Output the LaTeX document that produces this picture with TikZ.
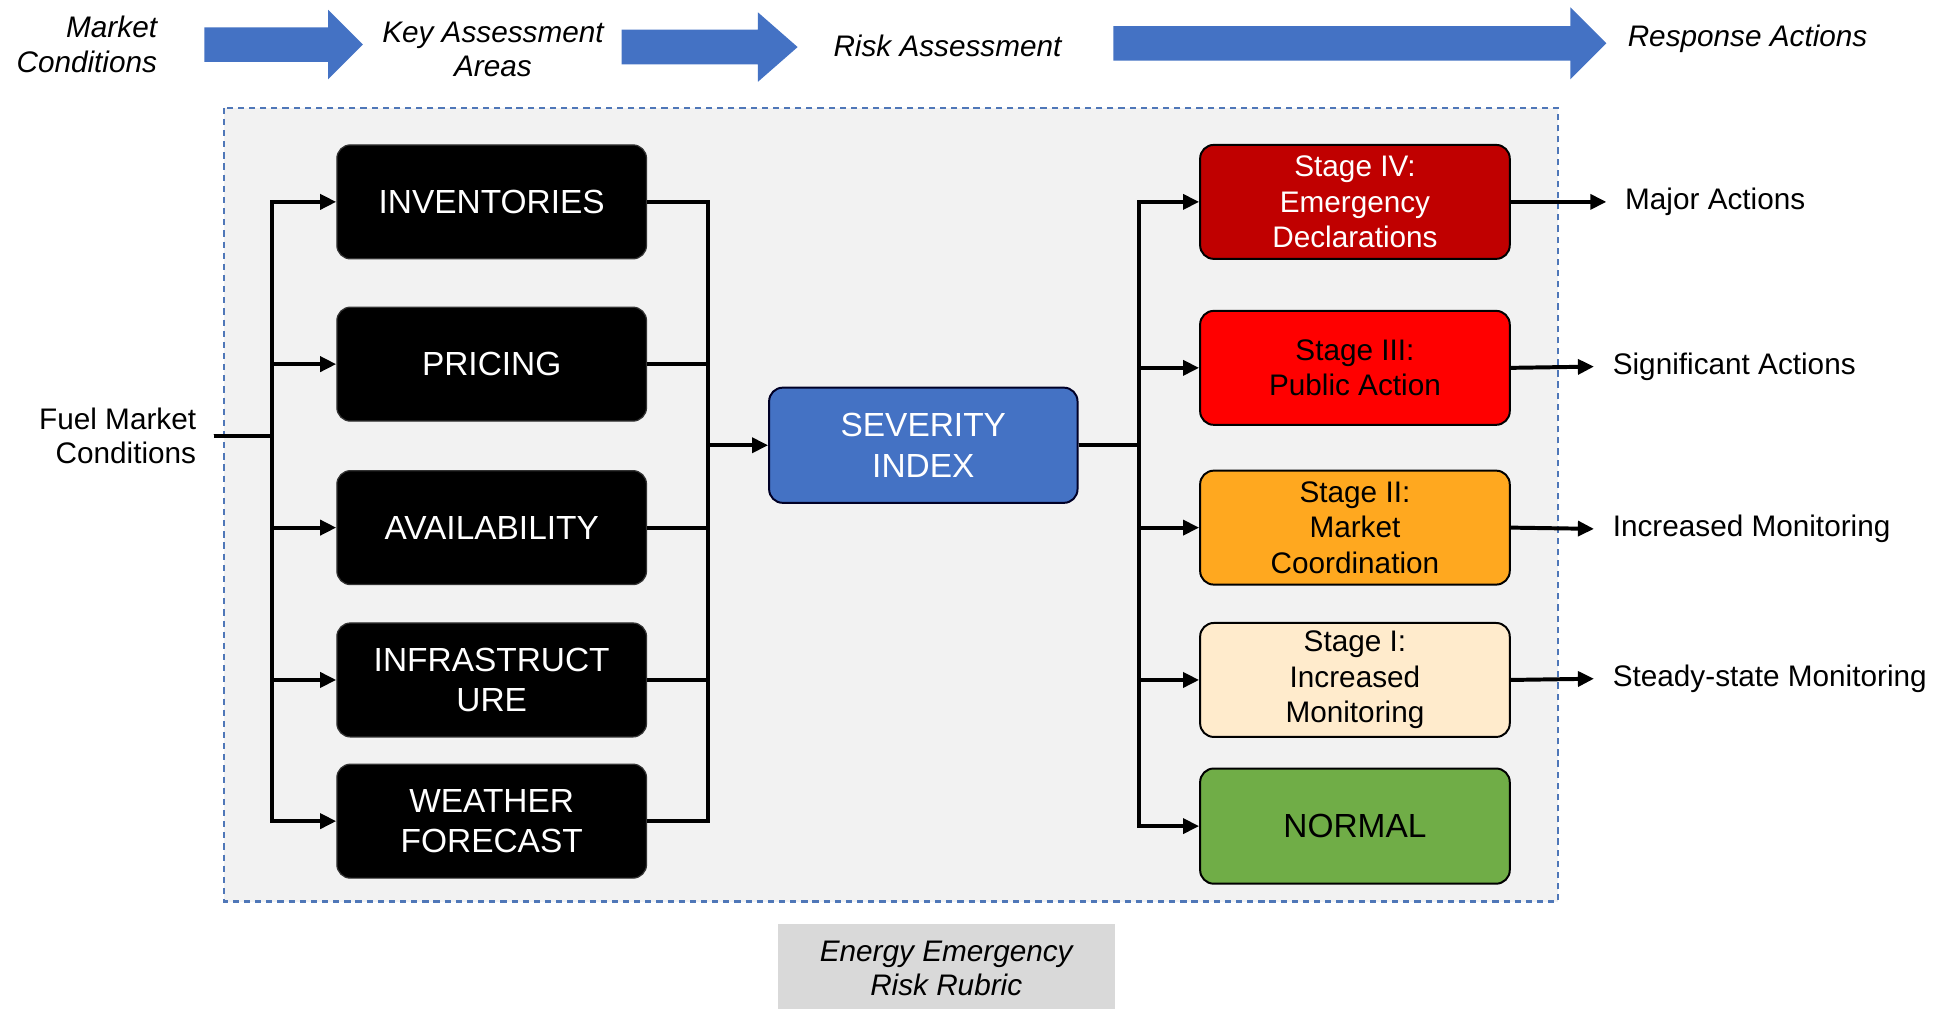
\documentclass[tikz,border=0pt]{standalone}
\usepackage{fontspec}
\setmainfont{Liberation Sans}
\usetikzlibrary{arrows.meta}
\definecolor{bblue}{HTML}{4472C4}
\definecolor{dashb}{HTML}{4F77B8}
\definecolor{panel}{HTML}{F2F2F2}
\definecolor{sfour}{HTML}{C00000}
\definecolor{sthree}{HTML}{FF0000}
\definecolor{stwo}{HTML}{FFA81F}
\definecolor{sone}{HTML}{FFEBCC}
\definecolor{snorm}{HTML}{70AD47}
\definecolor{rubric}{HTML}{D9D9D9}
\tikzset{
  kbox/.style={rectangle, rounded corners=11pt, fill=black, draw=black!80, line width=1pt,
    minimum width=250pt, minimum height=92pt, text=white, align=center,
    font=\fontsize{27}{33}\selectfont, inner sep=0pt},
  sbox/.style={rectangle, rounded corners=11pt, draw=black, line width=1.6pt,
    minimum width=250pt, minimum height=92pt, align=center,
    font=\fontsize{24}{28.5}\selectfont, inner sep=0pt},
  conn/.style={line width=3.2pt, draw=black},
  arr/.style={conn, -{Triangle[length=13pt,width=12pt]}},
  toplbl/.style={font=\fontsize{24}{28}\selectfont\itshape, align=center, inner sep=0pt},
  outlbl/.style={font=\fontsize{24}{28}\selectfont, anchor=west, inner xsep=15pt, inner ysep=0pt},
  bigarrow/.style={fill=bblue}
}
\begin{document}
\begin{tikzpicture}[x=1pt,y=-1pt]
\useasboundingbox (0,0) rectangle (1568,815);
\fill[white] (0,0) rectangle (1568,815);

% top flow arrows
\fill[bigarrow] (165,22) -- (265,22) -- (265,8) -- (293,36) -- (265,64) -- (265,50) -- (165,50) -- cycle;
\fill[bigarrow] (502,24) -- (612,24) -- (612,10) -- (644,38) -- (612,66) -- (612,52) -- (502,52) -- cycle;
\fill[bigarrow] (899,21) -- (1268,21) -- (1268,6) -- (1297,35) -- (1268,64) -- (1268,49) -- (899,49) -- cycle;

\node[toplbl, align=right, anchor=east] (mc) at (127,36) {Market\\Conditions};
\node[toplbl] (kaa) at (398,40) {Key Assessment\\Areas};
\node[toplbl] (ra) at (765,37) {Risk Assessment};
\node[toplbl] (resp) at (1411,31) {Response Actions};

% panel
\draw[fill=panel, draw=dashb, line width=2pt, dash pattern=on 5pt off 4pt] (181,87) rectangle (1258,728);

% left boxes
\node[kbox] (inv) at (397,163) {INVENTORIES};
\node[kbox] (pri) at (397,294) {PRICING};
\node[kbox] (ava) at (397,426) {AVAILABILITY};
\node[kbox] (inf) at (397,549) {INFRASTRUCT\\URE};
\node[kbox] (wea) at (397,663) {WEATHER\\FORECAST};

% fuel market conditions
\node[font=\fontsize{24}{28}\selectfont, align=right, inner xsep=14pt, inner ysep=0pt] (fuel) at (95,352) {Fuel Market\\Conditions};

% severity
\node[rectangle, rounded corners=11pt, fill=bblue, draw=black!85!blue, line width=1.6pt,
  minimum width=249pt, minimum height=93pt, text=white, align=center,
  font=\fontsize{27}{33}\selectfont, inner sep=0pt] (sev) at (745.5,359.5) {SEVERITY\\INDEX};

% stage boxes
\node[sbox, fill=sfour, text=white] (s4) at (1094,163) {Stage IV:\\Emergency\\Declarations};
\node[sbox, fill=sthree, text=black] (s3) at (1094,297) {Stage III:\\Public Action};
\node[sbox, fill=stwo, text=black] (s2) at (1094,426) {Stage II:\\Market\\Coordination};
\node[sbox, fill=sone, text=black] (s1) at (1094,549) {Stage I:\\Increased\\Monitoring};
\node[sbox, fill=snorm, text=black, minimum height=93pt, font=\fontsize{27}{33}\selectfont] (sn) at (1094,667) {NORMAL};

% output labels
\node[outlbl] (ma) at (1297,163) {Major Actions};
\node[outlbl] (sa) at (1287,296) {Significant Actions};
\node[outlbl] (im) at (1287,427) {Increased Monitoring};
\node[outlbl] (sm) at (1287,548) {Steady-state Monitoring};

% bottom rubric
\fill[rubric] (628,746) rectangle (900,815);
\node[toplbl] (rub) at (764,782) {Energy Emergency\\Risk Rubric};

% connectors left
\coordinate (lt) at (220,352);
\foreach \b in {inv,pri,ava,inf,wea}{
  \draw[arr] (fuel.east) -- (lt) |- (\b.west);
}
% right bus
\coordinate (rb) at (572,359.5);
\foreach \b in {inv,pri,ava,inf,wea}{
  \draw[conn] (\b.east) -| (rb);
}
\draw[arr] (rb) -- (sev.west);
% severity to stages
\coordinate (st) at (920,359.5);
\foreach \b in {s4,s3,s2,s1,sn}{
  \draw[arr] (sev.east) -- (st) |- (\b.west);
}
% stages to outputs
\draw[arr] (s4.east) -- (ma.west);
\draw[arr] (s3.east) -- (sa.west);
\draw[arr] (s2.east) -- (im.west);
\draw[arr] (s1.east) -- (sm.west);
\end{tikzpicture}
\end{document}
